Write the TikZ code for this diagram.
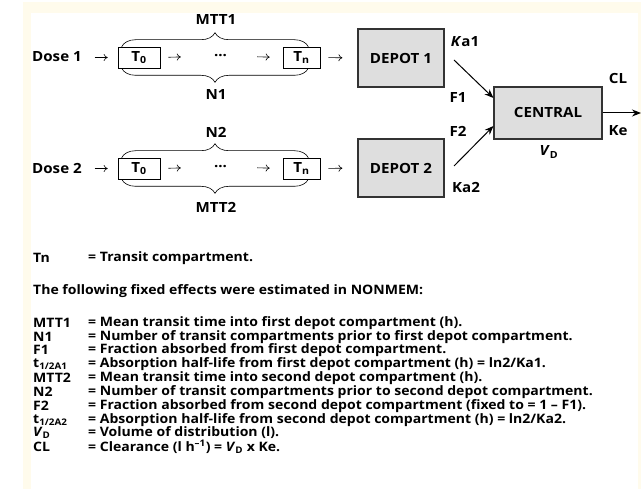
\documentclass[tikz,border=0pt]{standalone}
\usepackage{fontspec}
\setmainfont{Open Sans}[FakeStretch=1.08]
\usetikzlibrary{arrows.meta,decorations.pathreplacing,calc}
\definecolor{cream}{RGB}{255,251,236}
\definecolor{boxgray}{RGB}{222,222,222}
\begin{document}
\begin{tikzpicture}[x=1pt,y=-1pt,
  font=\bfseries\fontsize{14}{15}\selectfont,
  tbox/.style={draw, line width=0.6pt, minimum height=21pt, inner sep=0pt},
  comp/.style={draw=black!80, fill=boxgray, line width=1.1pt, inner sep=0pt},
  thinarrow/.style={-{To[length=4pt,width=7pt]}, line width=0.6pt},
  flow/.style={-{Stealth[length=9pt,width=7pt]}, line width=1pt},
  brc/.style={decorate, decoration={brace, amplitude=14pt}, line width=0.6pt},
  lbl/.style={inner sep=0pt},
  item/.style={anchor=west, inner sep=0pt, font=\bfseries\fontsize{13}{14}\selectfont},
]
\useasboundingbox (0,0) rectangle (641,489);
\fill[cream] (23,2) rectangle (641,489);
\fill[white] (31,13) rectangle (638,489);

% ---- row 1
\node[lbl, anchor=west] (dose1) at (32,57) {Dose 1};
\node[tbox, minimum width=42pt] (t01) at (139,57.5) {T\textsubscript{0}};
\node[lbl, minimum width=15pt] (dots1) at (220.5,56) {...};
\node[tbox, minimum width=37pt] (tn1) at (301.5,57.5) {T\textsubscript{n}};
\node[comp, minimum width=86pt, minimum height=58pt] (dep1) at (401,58) {DEPOT 1};
\draw[thinarrow, shorten >=10pt] ([xshift=-23pt]t01.west) -- (t01.west);
\draw[thinarrow, shorten <=8pt, shorten >=32pt] (t01.east) -- (dots1.west);
\draw[thinarrow, shorten <=29pt, shorten >=13pt] (dots1.east) -- (tn1.west);
\draw[thinarrow, shorten <=8pt, shorten >=15pt] (tn1.east) -- (dep1.west);
\draw[brc] ([xshift=4pt]t01.north west) -- ([xshift=-12pt]tn1.north east);
\draw[brc] ([xshift=-12pt]tn1.south east) -- ([xshift=4pt]t01.south west);
\node[lbl] (mtt1) at (216,20) {MTT1};
\node[lbl] (n1) at (216,95) {N1};

% ---- row 2
\node[lbl, anchor=west] (dose2) at (32,169) {Dose 2};
\node[tbox, minimum width=42pt] (t02) at (139,168.5) {T\textsubscript{0}};
\node[lbl, minimum width=15pt] (dots2) at (220.5,167) {...};
\node[tbox, minimum width=37pt] (tn2) at (301.5,168.5) {T\textsubscript{n}};
\node[comp, minimum width=86pt, minimum height=58pt] (dep2) at (401,168) {DEPOT 2};
\draw[thinarrow, shorten >=10pt] ([xshift=-23pt]t02.west) -- (t02.west);
\draw[thinarrow, shorten <=8pt, shorten >=32pt] (t02.east) -- (dots2.west);
\draw[thinarrow, shorten <=29pt, shorten >=13pt] (dots2.east) -- (tn2.west);
\draw[thinarrow, shorten <=8pt, shorten >=15pt] (tn2.east) -- (dep2.west);
\draw[brc] ([xshift=4pt]t02.north west) -- ([xshift=-12pt]tn2.north east);
\draw[brc] ([xshift=-12pt]tn2.south east) -- ([xshift=4pt]t02.south west);
\node[lbl] (n2) at (216,132) {N2};
\node[lbl] (mtt2) at (216,207) {MTT2};

% ---- central
\node[comp, minimum width=108pt, minimum height=52pt] (cen) at (548,113) {CENTRAL};
\coordinate (k1) at (454,60);
\coordinate (k2) at (454,166);
\coordinate (out) at (641,113);
\draw[flow] (k1) -- ([yshift=15pt]cen.west);
\draw[flow] (k2) -- ([yshift=-13pt]cen.west);
\draw[flow] (cen.east) -- (out);
\node[lbl] (ka1) at (465,42) {\textit{K}a1};
\node[lbl] (f1) at (458,98) {F1};
\node[lbl] (f2) at (458,131) {F2};
\node[lbl] (ka2) at (466,188) {Ka2};
\node[lbl] (cl) at (618,79) {CL};
\node[lbl] (ke) at (618,131) {Ke};
\node[lbl] (vd) at (549,152) {\textit{V}\textsubscript{D}};

% ---- legend
\node[item] (l0) at (33,258) {Tn};
\node[item] (d0) at (88,258) {= Transit compartment.};
\node[item] (head) at (33,291) {The following fixed effects were estimated in NONMEM:};
\node[item] (l1) at (33,323) {MTT1};
\node[item] (d1) at (88,323) {= Mean transit time into first depot compartment (h).};
\node[item] (l2) at (33,337) {N1};
\node[item] (d2) at (88,337) {= Number of transit compartments prior to first depot compartment.};
\node[item] (l3) at (33,350) {F1};
\node[item] (d3) at (88,350) {= Fraction absorbed from first depot compartment.};
\node[item] (l4) at (33,364) {t\textsubscript{1/2A1}};
\node[item] (d4) at (88,364) {= Absorption half-life from first depot compartment (h) = ln2/Ka1.};
\node[item] (l5) at (33,378) {MTT2};
\node[item] (d5) at (88,378) {= Mean transit time into second depot compartment (h).};
\node[item] (l6) at (33,392) {N2};
\node[item] (d6) at (88,392) {= Number of transit compartments prior to second depot compartment.};
\node[item] (l7) at (33,406) {F2};
\node[item] (d7) at (88,406) {= Fraction absorbed from second depot compartment (fixed to = 1 -- F1).};
\node[item] (l8) at (33,420) {t\textsubscript{1/2A2}};
\node[item] (d8) at (88,420) {= Absorption half-life from second depot compartment (h) = ln2/Ka2.};
\node[item] (l9) at (33,433) {\textit{V}\textsubscript{D}};
\node[item] (d9) at (88,433) {= Volume of distribution (l).};
\node[item] (l10) at (33,447) {CL};
\node[item] (d10) at (88,447) {= Clearance (l h\textsuperscript{--1}) = \textit{V}\textsubscript{D} x Ke.};
\end{tikzpicture}
\end{document}
